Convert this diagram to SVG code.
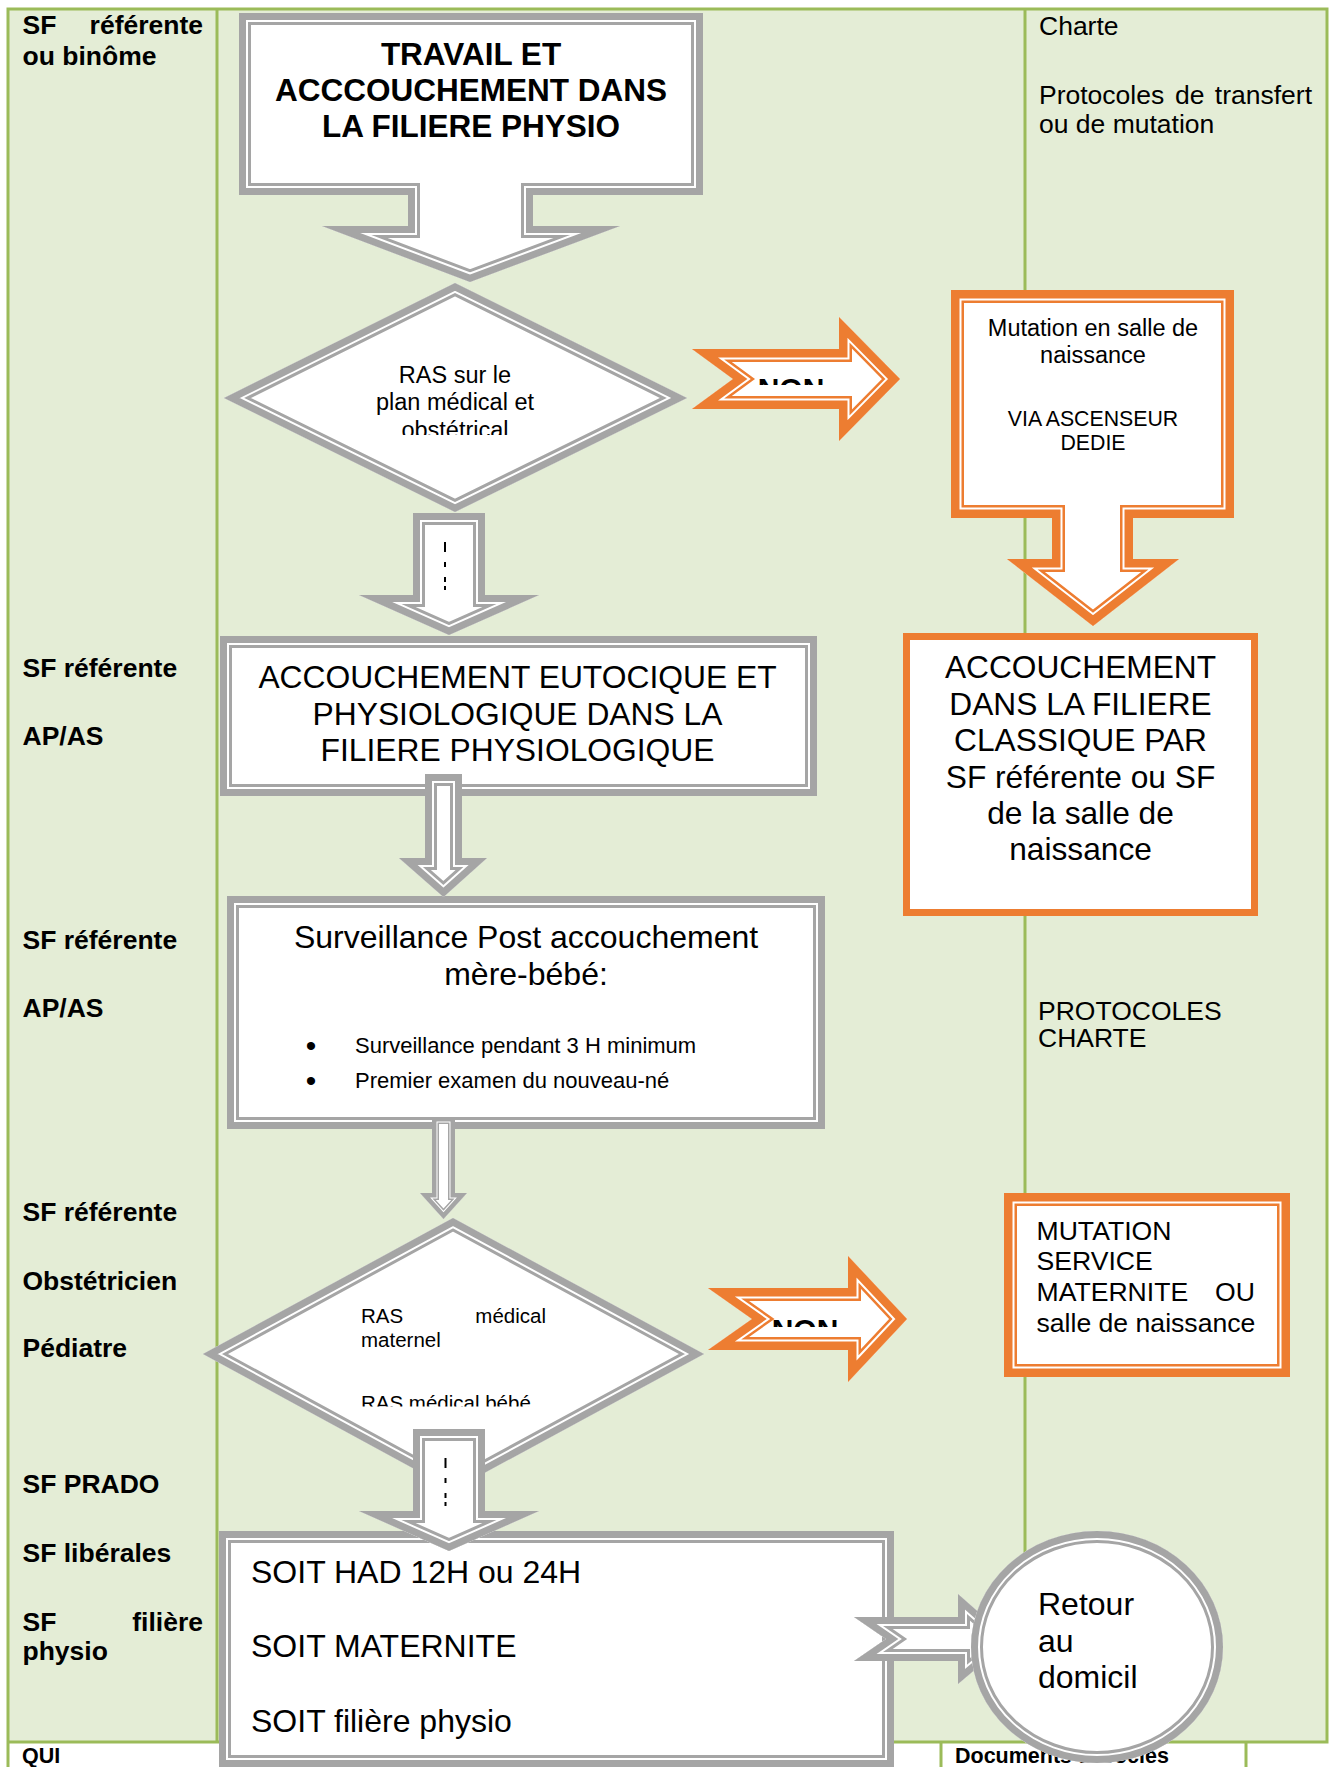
<svg xmlns="http://www.w3.org/2000/svg" width="1336" height="1767" viewBox="0 0 1336 1767">
<style>
text{font-family:'Liberation Sans',Arial,Helvetica,sans-serif;fill:#000}
.lbl{font-size:26.5px;font-weight:bold}
.doc{font-size:26.5px}
.mid{text-anchor:middle}
.end{text-anchor:end}
.grid{stroke:#9BBB59;stroke-width:3;fill:none}
.g1,.g2,.g3,.s1,.s2,.s3,.o1,.o2,.o3{stroke-linejoin:miter;stroke-miterlimit:10}
.g1{fill:#fff;stroke:#A5A5A5;stroke-width:24}
.g2{fill:none;stroke:#fff;stroke-width:18}
.g3{fill:none;stroke:#A5A5A5;stroke-width:14}
.s1{fill:#fff;stroke:#A5A5A5;stroke-width:14}
.s2{fill:none;stroke:#fff;stroke-width:11}
.s3{fill:none;stroke:#A5A5A5;stroke-width:9}
.o1{fill:#fff;stroke:#ED7D31;stroke-width:26}
.o2{fill:none;stroke:#fff;stroke-width:21}
.o3{fill:none;stroke:#ED7D31;stroke-width:17}
.dash{stroke:#000;stroke-width:2;fill:none}
</style>
<defs>
<polygon id="sh-travail" points="239,13 703,13 703,195 533,195 533,226 620,226 470,282 322,226 408,226 408,195 239,195"/>
<polygon id="sh-ras1" points="455,283 687,398 455,512 224,398"/>
<polygon id="sh-mut1" points="951,290 1234,290 1234,518 1133,518 1133,559 1179,559 1093,626 1007,559 1052,559 1052,518 951,518"/>
<rect id="sh-euto" x="220" y="636" width="597" height="160"/>
<rect id="sh-surv" x="227" y="896" width="598" height="233"/>
<polygon id="sh-ras2" points="453,1218 704,1354 453,1490 203,1354"/>
<rect id="sh-mut2" x="1004" y="1193" width="286" height="184"/>
<rect id="sh-sortie" x="219" y="1531" width="675" height="236"/>
<ellipse id="sh-retour" cx="1097" cy="1647" rx="126" ry="116"/>
<polygon id="sh-c1" points="413,513 485,513 485,595 539,595 449,635 359,595 413,595"/>
<polygon id="sh-c2" points="692,349 839,349 839,317 900,379 839,441 839,409 692,409 733,379"/>
<polygon id="sh-c3" points="425,774 462,774 462,858 487,858 443.5,897 399,858 425,858"/>
<polygon id="sh-c4" points="432,1117 455,1117 455,1193 467,1193 443.5,1219 420,1193 432,1193"/>
<polygon id="sh-c5" points="708,1288 848,1288 848,1256 907,1319 848,1382 848,1350 708,1350 752,1319"/>
<polygon id="sh-c6" points="413,1429 485,1429 485,1511 539,1511 449,1551 359,1511 413,1511"/>
<polygon id="sh-c7" points="854,1617 958,1617 958,1594 1010,1640 958,1684 958,1661 854,1661 886,1639"/>
<clipPath id="cl-travail"><use href="#sh-travail"/></clipPath>
<clipPath id="cl-ras1"><use href="#sh-ras1"/></clipPath>
<clipPath id="cl-mut1"><use href="#sh-mut1"/></clipPath>
<clipPath id="cl-euto"><use href="#sh-euto"/></clipPath>
<clipPath id="cl-surv"><use href="#sh-surv"/></clipPath>
<clipPath id="cl-ras2"><use href="#sh-ras2"/></clipPath>
<clipPath id="cl-mut2"><use href="#sh-mut2"/></clipPath>
<clipPath id="cl-sortie"><use href="#sh-sortie"/></clipPath>
<clipPath id="cl-retour"><use href="#sh-retour"/></clipPath>
<clipPath id="cl-c1"><use href="#sh-c1"/></clipPath>
<clipPath id="cl-c2"><use href="#sh-c2"/></clipPath>
<clipPath id="cl-c3"><use href="#sh-c3"/></clipPath>
<clipPath id="cl-c4"><use href="#sh-c4"/></clipPath>
<clipPath id="cl-c5"><use href="#sh-c5"/></clipPath>
<clipPath id="cl-c6"><use href="#sh-c6"/></clipPath>
<clipPath id="cl-c7"><use href="#sh-c7"/></clipPath>
<clipPath id="cl-ras1-txt"><rect x="230" y="290" width="450" height="145"/></clipPath>
<clipPath id="cl-ras2-txt"><rect x="210" y="1225" width="490" height="181.5"/></clipPath>
<clipPath id="cl-non1"><rect x="700" y="320" width="200" height="65"/></clipPath>
<clipPath id="cl-non2"><rect x="715" y="1260" width="190" height="67"/></clipPath>
</defs>

<g id="table">
<rect x="8" y="9" width="1319" height="1733" fill="#E4EDD6"/>
<rect x="0" y="1742" width="1336" height="25" fill="#fff"/>
<path class="grid" d="M8 9H1327V1742H8ZM8 1742V1767M217 9V1742M1025 9V1742M941 1742V1767M1246 1742V1767"/>
</g>

<g id="col-qui">
<text class="lbl" x="22.5" y="34">SF</text><text class="lbl end" x="203" y="34">référente</text>
<text class="lbl" x="22.5" y="65">ou binôme</text>
<text class="lbl" x="22.5" y="677">SF référente</text>
<text class="lbl" x="22.5" y="745">AP/AS</text>
<text class="lbl" x="22.5" y="949">SF référente</text>
<text class="lbl" x="22.5" y="1017">AP/AS</text>
<text class="lbl" x="22.5" y="1221">SF référente</text>
<text class="lbl" x="22.5" y="1290">Obstétricien</text>
<text class="lbl" x="22.5" y="1357">Pédiatre</text>
<text class="lbl" x="22.5" y="1493">SF PRADO</text>
<text class="lbl" x="22.5" y="1562">SF libérales</text>
<text class="lbl" x="22.5" y="1631">SF</text><text class="lbl end" x="203" y="1631">filière</text>
<text class="lbl" x="22.5" y="1660">physio</text>
</g>

<g id="col-docs">
<text class="doc" x="1039" y="35">Charte</text>
<text class="doc" x="1039" y="104">Protocoles</text><text class="doc" x="1175" y="104">de</text><text class="doc end" x="1312" y="104">transfert</text>
<text class="doc" x="1039" y="133">ou de mutation</text>
<text class="doc" x="1038" y="1020">PROTOCOLES</text>
<text class="doc" x="1038" y="1047">CHARTE</text>
</g>

<g id="footer">
<text x="22" y="1763" font-size="21.5" font-weight="bold">QUI</text>
<text x="955" y="1763" font-size="21.5" font-weight="bold">Documents associés</text>
</g>

<g id="node-travail">
<g clip-path="url(#cl-travail)"><use href="#sh-travail" class="g1"/><use href="#sh-travail" class="g2"/><use href="#sh-travail" class="g3"/></g>
<text class="mid" font-size="31.5" font-weight="bold"><tspan x="471" y="65">TRAVAIL ET</tspan><tspan x="471" y="101">ACCCOUCHEMENT DANS</tspan><tspan x="471" y="137">LA FILIERE PHYSIO</tspan></text>
</g>

<g id="node-ras1">
<g clip-path="url(#cl-ras1)"><use href="#sh-ras1" class="g1"/><use href="#sh-ras1" class="g2"/><use href="#sh-ras1" class="g3"/></g>
<text class="mid" font-size="23.5" clip-path="url(#cl-ras1-txt)"><tspan x="455" y="383">RAS sur le</tspan><tspan x="455" y="410">plan médical et</tspan><tspan x="455" y="438">obstétrical</tspan></text>
</g>

<g id="node-mutation-salle">
<g clip-path="url(#cl-mut1)"><use href="#sh-mut1" class="o1"/><use href="#sh-mut1" class="o2"/><use href="#sh-mut1" class="o3"/></g>
<text class="mid" font-size="23.5"><tspan x="1093" y="336">Mutation en salle de</tspan><tspan x="1093" y="363">naissance</tspan></text>
<text class="mid" font-size="21.3"><tspan x="1093" y="426">VIA ASCENSEUR</tspan><tspan x="1093" y="450">DEDIE</tspan></text>
</g>

<g id="node-eutocique">
<g clip-path="url(#cl-euto)"><use href="#sh-euto" class="g1"/><use href="#sh-euto" class="g2"/><use href="#sh-euto" class="g3"/></g>
<text class="mid" font-size="31.8"><tspan x="517.5" y="688">ACCOUCHEMENT EUTOCIQUE ET</tspan><tspan x="517.5" y="725">PHYSIOLOGIQUE DANS LA</tspan><tspan x="517.5" y="761">FILIERE PHYSIOLOGIQUE</tspan></text>
</g>

<g id="node-classique">
<rect x="906.5" y="636.5" width="348" height="276" fill="#fff" stroke="#ED7D31" stroke-width="7"/>
<text class="mid" font-size="31.7"><tspan x="1080.5" y="678">ACCOUCHEMENT</tspan><tspan x="1080.5" y="714.5">DANS LA FILIERE</tspan><tspan x="1080.5" y="751">CLASSIQUE PAR</tspan><tspan x="1080.5" y="787.5">SF référente ou SF</tspan><tspan x="1080.5" y="824">de la salle de</tspan><tspan x="1080.5" y="860">naissance</tspan></text>
</g>

<g id="node-surveillance">
<g clip-path="url(#cl-surv)"><use href="#sh-surv" class="g1"/><use href="#sh-surv" class="g2"/><use href="#sh-surv" class="g3"/></g>
<text class="mid" font-size="32"><tspan x="526" y="948">Surveillance Post accouchement</tspan><tspan x="526" y="985">mère-bébé:</tspan></text>
<text class="mid" font-size="30"><tspan x="311" y="1056">•</tspan><tspan x="311" y="1091">•</tspan></text>
<text font-size="22"><tspan x="355" y="1053">Surveillance pendant 3 H minimum</tspan><tspan x="355" y="1088">Premier examen du nouveau-né</tspan></text>
</g>

<g id="node-ras2">
<g clip-path="url(#cl-ras2)"><use href="#sh-ras2" class="g1"/><use href="#sh-ras2" class="g2"/><use href="#sh-ras2" class="g3"/></g>
<g font-size="20.5" clip-path="url(#cl-ras2-txt)">
<text x="361" y="1323">RAS</text><text class="end" x="546" y="1323">médical</text>
<text x="361" y="1347">maternel</text>
<text x="361" y="1410">RAS médical bébé</text>
</g>
</g>

<g id="node-mutation-service">
<g clip-path="url(#cl-mut2)"><use href="#sh-mut2" class="o1"/><use href="#sh-mut2" class="o2"/><use href="#sh-mut2" class="o3"/></g>
<g font-size="26.6">
<text x="1036.5" y="1240">MUTATION</text>
<text x="1036.5" y="1270">SERVICE</text>
<text x="1036.5" y="1301">MATERNITE</text><text class="end" x="1255" y="1301">OU</text>
<text x="1036.5" y="1332">salle de naissance</text>
</g>
</g>

<g id="node-sortie">
<g clip-path="url(#cl-sortie)"><use href="#sh-sortie" class="g1"/><use href="#sh-sortie" class="g2"/><use href="#sh-sortie" class="g3"/></g>
<text font-size="32"><tspan x="251" y="1583">SOIT HAD 12H ou 24H</tspan><tspan x="251" y="1657">SOIT MATERNITE</tspan><tspan x="251" y="1732">SOIT filière physio</tspan></text>
</g>

<g id="connectors">
<g id="c-ras1-euto">
<g clip-path="url(#cl-c1)"><use href="#sh-c1" class="g1"/><use href="#sh-c1" class="g2"/><use href="#sh-c1" class="g3"/></g>
<path class="dash" d="M445 542V552M445 562V567M445 577V582M445 586V590"/>
</g>
<g id="c-ras1-non">
<g clip-path="url(#cl-c2)"><use href="#sh-c2" class="o1"/><use href="#sh-c2" class="o2"/><use href="#sh-c2" class="o3"/></g>
<text class="mid" x="791" y="398.5" font-size="30" font-weight="bold" clip-path="url(#cl-non1)">NON</text>
</g>
<g id="c-euto-surv">
<g clip-path="url(#cl-c3)"><use href="#sh-c3" class="g1"/><use href="#sh-c3" class="g2"/><use href="#sh-c3" class="g3"/></g>
</g>
<g id="c-surv-ras2">
<g clip-path="url(#cl-c4)"><use href="#sh-c4" class="s1"/><use href="#sh-c4" class="s2"/><use href="#sh-c4" class="s3"/></g>
</g>
<g id="c-ras2-non">
<g clip-path="url(#cl-c5)"><use href="#sh-c5" class="o1"/><use href="#sh-c5" class="o2"/><use href="#sh-c5" class="o3"/></g>
<text class="mid" x="805" y="1339.5" font-size="30" font-weight="bold" clip-path="url(#cl-non2)">NON</text>
</g>
<g id="c-ras2-sortie">
<g clip-path="url(#cl-c6)"><use href="#sh-c6" class="g1"/><use href="#sh-c6" class="g2"/><use href="#sh-c6" class="g3"/></g>
<path class="dash" d="M445.5 1458V1468M445.5 1478V1483M445.5 1493V1498M445.5 1502V1506"/>
</g>
<g id="c-sortie-retour">
<g clip-path="url(#cl-c7)"><use href="#sh-c7" class="g1"/><use href="#sh-c7" class="g2"/><use href="#sh-c7" class="g3"/></g>
</g>
</g>

<g id="node-retour">
<g clip-path="url(#cl-retour)"><use href="#sh-retour" class="g1"/><use href="#sh-retour" class="g2"/><use href="#sh-retour" class="g3"/></g>
<text font-size="32"><tspan x="1038" y="1615">Retour</tspan><tspan x="1038" y="1652">au</tspan><tspan x="1038" y="1688">domicil</tspan></text>
</g>
</svg>
